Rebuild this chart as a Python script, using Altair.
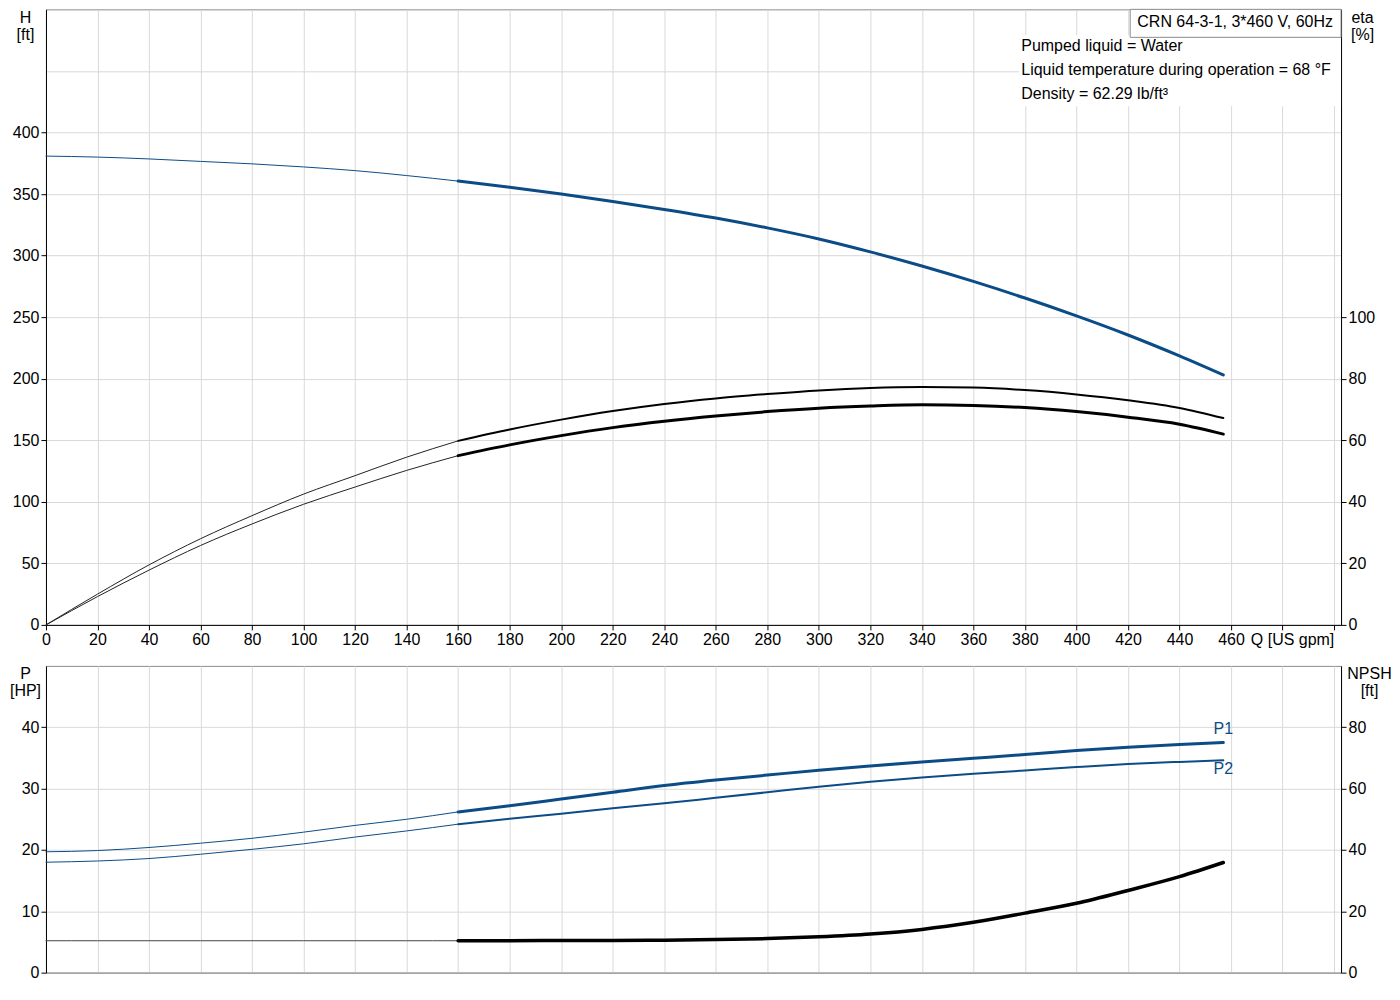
import altair as alt
import pandas as pd

FONT = "Liberation Sans"
BLUE = "#0b4c86"

# flow points [US gpm]
q = [0, 20, 40, 60, 80, 100, 120, 140, 160, 180, 200, 220, 240, 260,
     280, 300, 320, 340, 360, 380, 400, 420, 440, 457]

head_ft = [380.8, 380.0, 378.5, 376.5, 374.5, 372.0, 369.0, 365.0, 360.5,
           355.5, 350.0, 344.0, 337.5, 330.5, 322.5, 313.5, 303.0, 291.5,
           279.0, 265.5, 251.0, 235.5, 218.5, 203.0]
eta_pump = [0.0, 10.0, 19.5, 28.0, 35.5, 42.5, 48.5, 54.5, 59.8, 63.5, 66.7,
            69.5, 71.8, 73.6, 75.0, 76.2, 77.0, 77.3, 77.1, 76.3, 74.9, 73.0,
            70.5, 67.2]
eta_total = [0.0, 9.2, 17.8, 25.8, 32.8, 39.2, 44.8, 50.2, 55.0, 58.5, 61.5,
             64.1, 66.2, 67.9, 69.3, 70.4, 71.1, 71.5, 71.3, 70.6, 69.3, 67.5,
             65.2, 62.0]
p1_hp = [19.7, 19.9, 20.4, 21.1, 21.9, 22.9, 24.0, 25.0, 26.2, 27.2, 28.3,
         29.4, 30.5, 31.4, 32.2, 33.0, 33.7, 34.35, 34.95, 35.55, 36.2, 36.75,
         37.2, 37.5]
p2_hp = [18.0, 18.2, 18.6, 19.3, 20.1, 21.0, 22.1, 23.1, 24.2, 25.1, 25.9,
         26.8, 27.6, 28.5, 29.4, 30.3, 31.1, 31.8, 32.4, 32.95, 33.5, 34.0,
         34.35, 34.6]
npsh_ft = [10.4, 10.4, 10.4, 10.4, 10.4, 10.4, 10.4, 10.4, 10.4, 10.4, 10.5,
           10.5, 10.6, 10.8, 11.1, 11.7, 12.6, 14.1, 16.4, 19.4, 22.6, 26.8,
           31.3, 35.9]

x_ticks = list(range(0, 501, 20))
h_ticks = list(range(0, 451, 50))
eta_ticks = [0, 20, 40, 60, 80, 100]
p_ticks = [0, 10, 20, 30, 40]
npsh_ticks = [0, 20, 40, 60, 80]

title_text = "CRN 64-3-1, 3*460 V, 60Hz"
info_lines = ["Pumped liquid = Water",
              "Liquid temperature during operation = 68 °F",
              "Density = 62.29 lb/ft³"]

DUTY_START = 160  # curves are drawn thin below this flow


def frame(**curves):
    rows = []
    for name, ys in curves.items():
        for x, y in zip(q, ys):
            rows.append({"q": x, "v": y, "curve": name})
    return pd.DataFrame(rows)


def lines(df, x, y, color, width, bold, names=None):
    test = alt.datum.q >= DUTY_START if bold else alt.datum.q <= DUTY_START
    c = alt.Chart(df).transform_filter(test)
    if names is not None:
        c = c.transform_filter(alt.FieldOneOfPredicate(field="curve", oneOf=names))
    return c.mark_line(color=color, strokeWidth=width, interpolate="monotone",
                       strokeCap="round").encode(x=x, y=y, detail="curve:N")


def side_title(lines_, dx):
    return dict(title=lines_, titleAngle=0, titleAlign="center", titleBaseline="top",
                titleX=dx, titleY=0, titleLineHeight=17)


x_scale = alt.Scale(domain=[0, 502.7], nice=False)
x_top = alt.X("q:Q", scale=x_scale, axis=alt.Axis(
    values=x_ticks, labelExpr="datum.value <= 460 ? datum.label : ''",
    labelFlush=False, labelOverlap=False,
    title="Q [US gpm]", titleX=1247, titleY=7, titleAlign="center",
    titleBaseline="top", titleAngle=0))
x_bottom = alt.X("q:Q", scale=x_scale, axis=alt.Axis(
    values=x_ticks, labels=False, ticks=False, title=None,
    domainColor="#8c8c8c"))

# ---- top panel: head + efficiency
h_y = alt.Y("v:Q", scale=alt.Scale(domain=[0, 500], nice=False), axis=alt.Axis(
    values=h_ticks, labelExpr="datum.value <= 400 ? datum.label : ''",
    tickOpacity={"condition": {"test": "datum.value > 400", "value": 0}, "value": 1},
    **side_title(["H", "[ft]"], -21)))
eta_y = alt.Y("v:Q", scale=alt.Scale(domain=[0, 200], nice=False), axis=alt.Axis(
    orient="right", values=eta_ticks, grid=False, **side_title(["eta", "[%]"], 21)))

head_df = frame(H=head_ft)
eta_df = frame(pump=eta_pump, total=eta_total)

one = pd.DataFrame({"a": [0]})
info_bg = alt.Chart(one).mark_rect(fill="white").encode(
    x=alt.value(974), x2=alt.value(1296), y=alt.value(26), y2=alt.value(97))
box = alt.Chart(one).mark_rect(fill="white", stroke="#8c8c8c").encode(
    x=alt.value(1085), x2=alt.value(1296), y=alt.value(0), y2=alt.value(28))
box_text = alt.Chart(one).mark_text(
    text=title_text, font=FONT, fontSize=16, color="#000",
    align="center", baseline="middle").encode(x=alt.value(1190), y=alt.value(13))
info_text = alt.Chart(one).mark_text(
    text=info_lines, font=FONT, fontSize=16, color="#000", lineHeight=24,
    align="left", baseline="alphabetic").encode(x=alt.value(976), y=alt.value(42))

head_group = alt.layer(
    lines(head_df, x_top, h_y, BLUE, 1, False),
    lines(head_df, x_top, h_y, BLUE, 3, True),
    info_bg, box, box_text, info_text,
)
eta_group = alt.layer(
    lines(eta_df, x_top, eta_y, "#222", 1, False),
    lines(eta_df, x_top, eta_y, "#000", 2, True, ["pump"]),
    lines(eta_df, x_top, eta_y, "#000", 3, True, ["total"]),
)
top = alt.layer(head_group, eta_group).resolve_scale(y="independent").properties(
    width=1296, height=616)

# ---- bottom panel: power + NPSH
p_y = alt.Y("v:Q", scale=alt.Scale(domain=[0, 50], nice=False), axis=alt.Axis(
    values=p_ticks, **side_title(["P", "[HP]"], -21)))
npsh_y = alt.Y("v:Q", scale=alt.Scale(domain=[0, 100], nice=False), axis=alt.Axis(
    orient="right", values=npsh_ticks, grid=False, **side_title(["NPSH", "[ft]"], 28)))

p_df = frame(P1=p1_hp, P2=p2_hp)
npsh_df = frame(NPSH=npsh_ft)

p1_lab = alt.Chart(pd.DataFrame({"q": [q[-1]], "v": [p1_hp[-1]], "t": ["P1"]})).mark_text(
    font=FONT, fontSize=16, color=BLUE, dy=-14).encode(x=x_bottom, y=p_y, text="t:N")
p2_lab = alt.Chart(pd.DataFrame({"q": [q[-1]], "v": [p2_hp[-1]], "t": ["P2"]})).mark_text(
    font=FONT, fontSize=16, color=BLUE, dy=9).encode(x=x_bottom, y=p_y, text="t:N")

p_group = alt.layer(
    lines(p_df, x_bottom, p_y, BLUE, 1, False),
    lines(p_df, x_bottom, p_y, BLUE, 3, True, ["P1"]),
    lines(p_df, x_bottom, p_y, BLUE, 2, True, ["P2"]),
    p1_lab, p2_lab,
)
npsh_group = alt.layer(
    lines(npsh_df, x_bottom, npsh_y, "#444", 1, False),
    lines(npsh_df, x_bottom, npsh_y, "#000", 3.5, True),
)
bottom = alt.layer(p_group, npsh_group).resolve_scale(y="independent").properties(
    width=1296, height=307)

chart = alt.vconcat(top, bottom, spacing=41, bounds="flush").properties(
    padding={"left": 0, "top": 0, "right": 0, "bottom": 0}
).configure_axis(
    labelFont=FONT, labelFontSize=16, labelColor="#000",
    titleFont=FONT, titleFontSize=16, titleFontWeight="normal", titleColor="#000",
    tickColor="#000", domainColor="#000", gridColor="#d9d9d9",
    tickSize=5, labelPadding=2,
).configure_view(stroke="#8c8c8c", strokeWidth=1)

chart.save("out.html", embed_options={"renderer": "svg", "actions": False})
